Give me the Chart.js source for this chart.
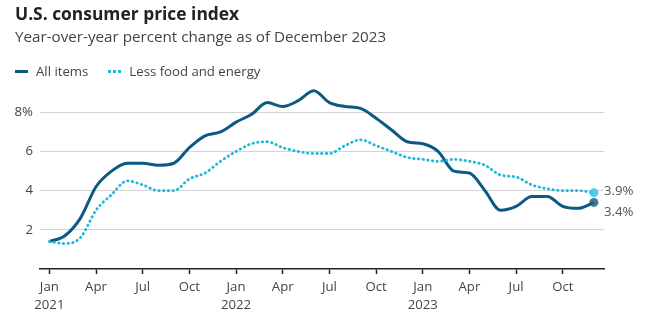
<!DOCTYPE html>
<html>
<head>
<meta charset="utf-8">
<script src="https://cdn.jsdelivr.net/npm/chart.js@4.4.1/dist/chart.umd.min.js"></script>
<style>
  html, body { margin: 0; padding: 0; background: #fff; }
  #wrap { position: relative; width: 645px; height: 325px; font-family: "Open Sans", Lato, sans-serif; }
  #title { position: absolute; left: 15px; top: 1px; font-size: 17.4px; font-weight: 700; color: #222; }
  #subtitle { position: absolute; left: 15px; top: 26px; font-size: 15.2px; color: #444; }
  #legend { position: absolute; left: 15px; top: 62px; font-size: 13.2px; color: #444; display: flex; align-items: center; }
  .key { display: inline-block; width: 13px; height: 0; margin-right: 8px; }
  .solid { border-top: 3px solid #0b5a82; }
  .dots { border-top: 3px dotted #1eb9d9; }
  .item { display: flex; align-items: center; margin-right: 20px; }
  canvas { position: absolute; left: 0; top: 0; }
</style>
</head>
<body>
<div id="wrap">
  <canvas id="c" width="645" height="325"></canvas>
  <div id="title">U.S. consumer price index</div>
  <div id="subtitle">Year-over-year percent change as of December 2023</div>
  <div id="legend">
    <span class="item"><span class="key solid"></span>All items</span>
    <span class="item"><span class="key dots"></span>Less food and energy</span>
  </div>
</div>
<script>
// Monthly index, Jan 2021 (0) through Dec 2023 (35)
const months = [
  'Jan 2021','Feb 2021','Mar 2021','Apr 2021','May 2021','Jun 2021','Jul 2021','Aug 2021','Sep 2021','Oct 2021','Nov 2021','Dec 2021',
  'Jan 2022','Feb 2022','Mar 2022','Apr 2022','May 2022','Jun 2022','Jul 2022','Aug 2022','Sep 2022','Oct 2022','Nov 2022','Dec 2022',
  'Jan 2023','Feb 2023','Mar 2023','Apr 2023','May 2023','Jun 2023','Jul 2023','Aug 2023','Sep 2023','Oct 2023','Nov 2023','Dec 2023'
];
const allItems = [
  1.4, 1.7, 2.6, 4.2, 5.0, 5.4, 5.4, 5.3, 5.4, 6.2, 6.8, 7.0,
  7.5, 7.9, 8.5, 8.3, 8.6, 9.1, 8.5, 8.3, 8.2, 7.7, 7.1, 6.5,
  6.4, 6.0, 5.0, 4.9, 4.0, 3.0, 3.2, 3.7, 3.7, 3.2, 3.1, 3.4
];
const lessFoodEnergy = [
  1.4, 1.3, 1.6, 3.0, 3.8, 4.5, 4.3, 4.0, 4.0, 4.6, 4.9, 5.5,
  6.0, 6.4, 6.5, 6.2, 6.0, 5.9, 5.9, 6.3, 6.6, 6.3, 6.0, 5.7,
  5.6, 5.5, 5.6, 5.5, 5.3, 4.8, 4.7, 4.3, 4.1, 4.0, 4.0, 3.9
];
// Quarterly tick positions and their labels
const tickPositions = [0, 3, 6, 9, 12, 15, 18, 21, 24, 27, 30, 33];
const tickLabels = [
  ['Jan', '2021'], 'Apr', 'Jul', 'Oct',
  ['Jan', '2022'], 'Apr', 'Jul', 'Oct',
  ['Jan', '2023'], 'Apr', 'Jul', 'Oct'
];
const yTicks = [2, 4, 6, 8];

const DARK = '#0b5a82';
const CYAN = '#1eb9d9';
const FONT = '"Open Sans", Lato, sans-serif';

const toPoints = arr => arr.map((v, i) => ({ x: i, y: v }));
const last = arr => arr.length - 1;

// End-of-series markers with their value labels
const endLabels = {
  id: 'endLabels',
  afterDatasetsDraw(chart) {
    const { ctx, scales: { x, y } } = chart;
    const items = [
      { data: lessFoodEnergy, fill: 'rgba(60,200,235,0.9)', dy: -1 },
      { data: allItems, fill: 'rgba(40,95,130,0.85)', dy: 10 }
    ];
    ctx.save();
    items.forEach(it => {
      const i = last(it.data);
      const px = x.getPixelForValue(i);
      const py = y.getPixelForValue(it.data[i]);
      ctx.beginPath();
      ctx.arc(px, py, 4.5, 0, Math.PI * 2);
      ctx.fillStyle = it.fill;
      ctx.fill();
      ctx.font = '13.2px ' + FONT;
      ctx.fillStyle = '#555';
      ctx.textAlign = 'left';
      ctx.textBaseline = 'middle';
      ctx.fillText(it.data[i].toFixed(1) + '%', px + 10, py + it.dy);
    });
    ctx.restore();
  }
};

new Chart(document.getElementById('c'), {
  type: 'line',
  data: {
    datasets: [
      {
        label: 'Less food and energy',
        data: toPoints(lessFoodEnergy),
        borderColor: CYAN,
        borderWidth: 2.8,
        borderDash: [0.5, 4.2],
        borderCapStyle: 'round',
        cubicInterpolationMode: 'monotone',
        pointRadius: 0,
        fill: false
      },
      {
        label: 'All items',
        data: toPoints(allItems),
        borderColor: DARK,
        borderWidth: 3,
        cubicInterpolationMode: 'monotone',
        pointRadius: 0,
        fill: false
      }
    ]
  },
  options: {
    responsive: false,
    animation: false,
    events: [],
    layout: { padding: { top: 83, right: 41, bottom: 0, left: 0 } },
    plugins: { legend: { display: false }, tooltip: { enabled: false } },
    scales: {
      x: {
        type: 'linear',
        min: -0.6,
        max: 35.65,
        afterBuildTicks: s => { s.ticks = tickPositions.map(v => ({ value: v })); },
        afterFit: s => { s.height = 56; },
        border: { display: true, color: '#222', width: 1.5 },
        grid: { drawOnChartArea: false, drawTicks: true, tickLength: 5, tickWidth: 1.5, tickColor: '#222' },
        ticks: {
          autoSkip: false,
          maxRotation: 0,
          padding: 4,
          color: '#444',
          font: { family: FONT, size: 13.2, lineHeight: 1.38 },
          callback: (v) => {
            const k = tickPositions.indexOf(v);
            return k >= 0 ? tickLabels[k] : '';
          }
        }
      },
      y: {
        min: 0,
        max: 9.5,
        afterBuildTicks: s => { s.ticks = yTicks.map(v => ({ value: v })); },
        afterFit: s => { s.width = 40; },
        border: { display: false },
        grid: { color: '#d4d4d4', lineWidth: 1, drawTicks: false },
        ticks: {
          padding: 7,
          color: '#444',
          font: { family: FONT, size: 13.2 },
          callback: v => (v === 8 ? v + '%' : v)
        }
      }
    }
  },
  plugins: [endLabels]
});
</script>
</body>
</html>
